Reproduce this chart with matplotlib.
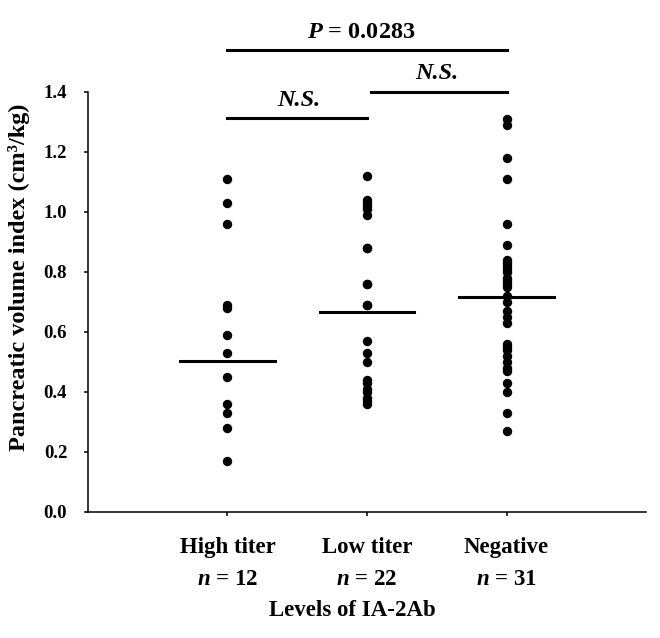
import matplotlib
matplotlib.use('Agg')
from matplotlib import pyplot as plt

plt.rcParams['font.family'] = 'Liberation Serif'
plt.rcParams['font.weight'] = 'bold'
plt.rcParams['mathtext.fontset'] = 'custom'
plt.rcParams['mathtext.it'] = 'Liberation Serif:italic:bold'
plt.rcParams['mathtext.rm'] = 'Liberation Serif:bold'
plt.rcParams['mathtext.bf'] = 'Liberation Serif:bold'

groups = ['High titer', 'Low titer', 'Negative']
counts = [12, 22, 31]

high_titer = [1.11, 1.03, 0.96, 0.69, 0.68, 0.59, 0.53, 0.45, 0.36, 0.33, 0.28, 0.17]
low_titer = [1.12, 1.04, 1.03, 1.02, 1.01, 0.99, 0.88, 0.88, 0.76, 0.76, 0.69, 0.69,
             0.57, 0.53, 0.50, 0.44, 0.43, 0.41, 0.40, 0.38, 0.37, 0.36]
negative = [1.31, 1.29, 1.18, 1.11, 0.96, 0.89, 0.84, 0.83, 0.82, 0.81, 0.80, 0.78,
            0.77, 0.76, 0.75, 0.72, 0.70, 0.67, 0.65, 0.63, 0.56, 0.55, 0.54, 0.52,
            0.50, 0.48, 0.47, 0.43, 0.40, 0.33, 0.27]
medians = [0.504, 0.665, 0.715]

# significance bars: (x from, x to, y, label, label x)
sig_bars = [
    (1, 2, 1.313, 'N.S.', 1.51),
    (2.03, 3, 1.40, 'N.S.', 2.5),
    (1, 3, 1.54, r'$P$ = 0.0283', 1.96),
]

fig = plt.figure(figsize=(6.6, 6.38), dpi=100)
ax = fig.add_axes([0.1333, 0.1975, 0.8455, 0.6583])

for i, vals in enumerate([high_titer, low_titer, negative]):
    x = i + 1
    ax.scatter([x] * len(vals), vals, s=46, color='black', zorder=3, linewidths=0)
    ax.plot([x - 0.34, x + 0.34], [medians[i], medians[i]], color='black', lw=2.2, zorder=4)

for x0, x1, y, label, lx in sig_bars:
    ax.plot([x0, x1], [y, y], color='black', lw=2.2, clip_on=False)
    ax.text(lx, y + 0.025, label, ha='center', va='bottom', fontsize=17.5,
            fontweight='bold', style='italic' if 'N.S.' in label else 'normal')

ax.set_xlim(0, 4)
ax.set_ylim(0, 1.4)
ax.set_yticks([0, 0.2, 0.4, 0.6, 0.8, 1.0, 1.2, 1.4])
ax.set_yticklabels(['%.1f' % v for v in ax.get_yticks()], fontsize=13.5, fontweight='bold')
ax.set_xticks([1, 2, 3])
ax.set_xticklabels(['%s\n$n$ = %d' % (g, n) for g, n in zip(groups, counts)],
                   fontsize=16.5, fontweight='bold', linespacing=1.7)

ax.spines['top'].set_visible(False)
ax.spines['right'].set_visible(False)
ax.spines['left'].set_linewidth(1.1)
ax.spines['bottom'].set_linewidth(1.1)
ax.tick_params(axis='y', direction='out', length=3, width=1.1, pad=12)
ax.tick_params(axis='x', direction='out', length=3, width=1.1, pad=15)

ax.set_ylabel('Pancreatic volume index (cm³/kg)', fontsize=17.5, fontweight='bold')
ax.yaxis.set_label_coords(-0.104, 0.56)
ax.set_xlabel('Levels of IA-2Ab', fontsize=16.5, fontweight='bold')
ax.xaxis.set_label_coords(0.473, -0.21)
ax.xaxis.label.set_va('top')

plt.savefig('out.png', dpi=100)
